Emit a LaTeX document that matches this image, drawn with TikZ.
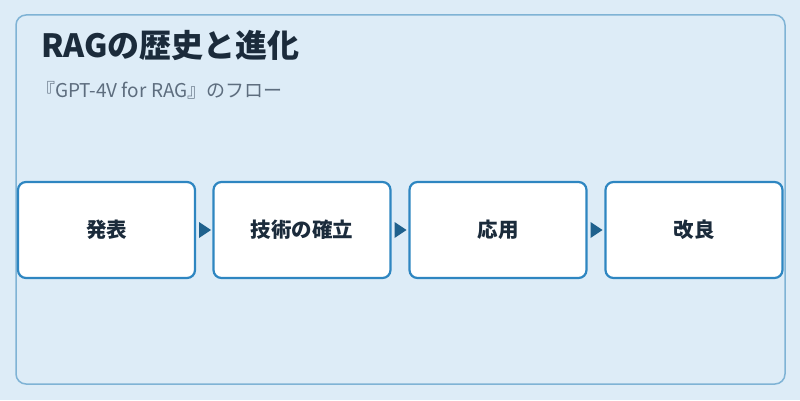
\documentclass[tikz,border=0pt]{standalone}
\usepackage{fontspec}
\setmainfont{Noto Sans CJK JP}
\usepackage{tikz}
\usetikzlibrary{positioning, calc}

\definecolor{bgblue}{HTML}{DDECF7}
\definecolor{framecol}{HTML}{7FB3D5}
\definecolor{stepline}{HTML}{2E86C1}
\definecolor{arrowcol}{HTML}{1F618D}
\definecolor{titlecol}{HTML}{1B2B3B}
\definecolor{subcol}{HTML}{5D6D7E}

\begin{document}
\begin{tikzpicture}[x=1pt, y=1pt,
    stepbox/.style={draw=stepline, line width=2.2pt, rounded corners=8pt, fill=white, minimum width=177pt, minimum height=96pt, font=\fontsize{20.5}{24}\selectfont\bfseries, text=titlecol}
]
    % background and panel
    \fill[bgblue] (0,0) rectangle (800,400);
    \useasboundingbox (0,0) rectangle (800,400);
    \draw[framecol, line width=1.5pt, rounded corners=10pt] (16,16) rectangle (785,385);

    % title
    \node[anchor=base west, inner sep=0pt, text=titlecol, font=\fontsize{32}{38}\selectfont\bfseries] (title) at (41,343) {RAGの歴史と進化};
    \node[anchor=base west, inner sep=0pt, text=subcol, font=\fontsize{19}{22}\selectfont] (sub) at (36,303) {『GPT-4V for RAG』のフロー};

    % steps
    \node[stepbox] (s1) at (106.5,170) {発表};
    \node[stepbox] (s2) at (302,170) {技術の確立};
    \node[stepbox] (s3) at (498,170) {応用};
    \node[stepbox] (s4) at (694,170) {改良};

    % arrows
    \foreach \a/\b in {s1/s2, s2/s3, s3/s4} {
        \fill[arrowcol] ($(\a.east)+(3,8)$) -- ($(\a.east)+(15,0)$) -- ($(\a.east)+(3,-8)$) -- cycle;
    }
\end{tikzpicture}
\end{document}
